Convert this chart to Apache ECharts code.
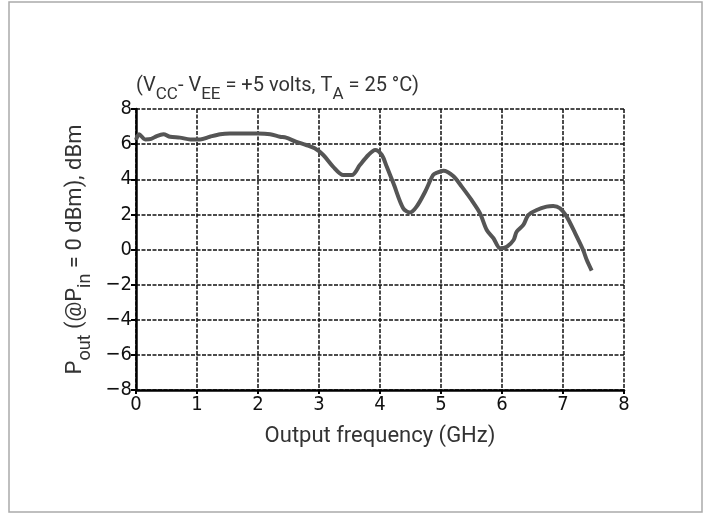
<!DOCTYPE html>
<html><head><meta charset="utf-8">
<script src="https://cdn.jsdelivr.net/npm/echarts@6/dist/echarts.min.js"></script>
<style>html,body{margin:0;padding:0;background:#fff}#c{width:709px;height:514px}</style>
</head><body><div id="c"></div>
<script>
const freqGHz = [0,0.05,0.15,0.25,0.34,0.45,0.56,0.72,0.89,1.05,1.21,1.38,1.54,1.8,2.0,2.2,2.36,2.46,2.62,2.79,2.93,3.07,3.23,3.40,3.54,3.67,3.81,3.92,4.03,4.11,4.22,4.38,4.49,4.60,4.74,4.87,4.93,5.04,5.20,5.34,5.50,5.64,5.75,5.86,5.97,6.08,6.19,6.24,6.35,6.43,6.57,6.73,6.84,6.95,7.06,7.20,7.33,7.39,7.47];
const poutDBm = [6.24,6.56,6.27,6.3,6.46,6.56,6.42,6.37,6.27,6.27,6.42,6.56,6.6,6.6,6.6,6.56,6.42,6.37,6.14,5.95,5.76,5.38,4.72,4.24,4.24,4.81,5.38,5.67,5.38,4.72,3.77,2.35,2.1,2.44,3.29,4.24,4.37,4.49,4.19,3.58,2.82,2.06,1.11,0.64,0.07,0.16,0.54,1.01,1.40,1.96,2.25,2.44,2.48,2.35,1.87,0.92,-0.03,-0.6,-1.2];
const xTicks = [0,1,2,3,4,5,6,7,8];
const yTicks = [-8,-6,-4,-2,0,2,4,6,8];

const chart = echarts.init(document.getElementById('c'), null, {renderer:'canvas'});
const tickFont = '"Liberation Sans Narrow","DejaVu Sans Condensed",Roboto,sans-serif';
const labFont = 'Roboto,"Liberation Sans",sans-serif';
chart.setOption({
  animation:false,
  backgroundColor:'#fff',
  graphic:[
    {type:'rect', shape:{x:9,y:2,width:693,height:510}, style:{fill:'none',stroke:'#aaa',lineWidth:1.5}, silent:true},
    {type:'text', left:136, top:76, style:{
      rich:{
        n:{fontSize:20, fontFamily:labFont, fill:'#333'},
        s:{fontSize:17, fontFamily:labFont, fill:'#333', verticalAlign:'bottom', padding:[0,0,-7,0]}
      },
      text:'{n|(V}{s|CC}{n|- V}{s|EE}{n| = +5 volts, T}{s|A}{n| = 25 °C)}'
    }}
  ],
  grid:{left:136, right:85, top:109, bottom:124, containLabel:false},
  xAxis:{
    type:'value', min:0, max:8, interval:1,
    name:'Output frequency (GHz)', nameLocation:'middle', nameGap:35,
    nameTextStyle:{fontSize:22, fontFamily:labFont, color:'#333'},
    axisLine:{show:true, onZero:false, lineStyle:{color:'#000', width:2.5}},
    axisTick:{show:true, length:4, lineStyle:{color:'#000', width:2}},
    axisLabel:{fontSize:20, fontFamily:tickFont, color:'#111', margin:5,
      formatter:v=>xTicks.includes(v)?String(v):''},
    splitLine:{show:true, lineStyle:{color:'#111', width:1.5, type:[4,1.5]}}
  },
  yAxis:{
    type:'value', min:-8, max:8, interval:2,
    name:'{n|P}{s|out}{n| (@P}{s|in}{n| = 0 dBm), dBm}', nameLocation:'middle', nameGap:32, nameRotate:90,
    nameTextStyle:{rich:{
      n:{fontSize:22, fontFamily:labFont, color:'#333'},
      s:{fontSize:18, fontFamily:labFont, color:'#333', verticalAlign:'bottom', padding:[0,0,-8,0]}
    }},
    axisLine:{show:true, onZero:false, lineStyle:{color:'#000', width:2.5}},
    axisTick:{show:true, length:5, lineStyle:{color:'#000', width:2}},
    axisLabel:{fontSize:20, fontFamily:tickFont, color:'#111', margin:4,
      formatter:v=>yTicks.includes(v)?(v<0?'\u2212'+Math.abs(v):String(v)):''},
    splitLine:{show:true, lineStyle:{color:'#111', width:1.5, type:[4,1.5]}}
  },
  series:[{
    type:'line', data:freqGHz.map((f,i)=>[f,poutDBm[i]]),
    smooth:0.3, showSymbol:false,
    lineStyle:{color:'#555', width:4}
  }]
});
</script></body></html>
